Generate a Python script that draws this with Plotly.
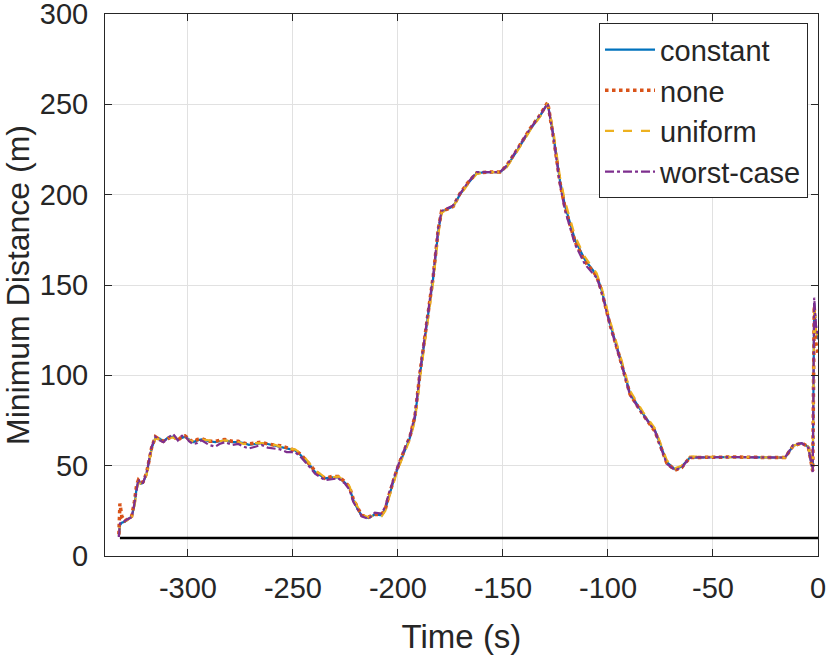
import plotly.graph_objects as go

# time axis shared by all four runs (s)
time_s = [
    -332.9, -332.4, -331.5, -330.0, -328.5, -326.8, -325.5, -324.4, -323.6, -322.5,
    -321.4, -319.7, -317.3, -315.5, -313.5, -311.7, -309.5, -307.0, -304.8, -303.0,
    -301.4, -299.5, -297.6, -295.5, -293.5, -290.0, -287.0, -285.0, -282.4, -279.0,
    -276.0, -273.5, -271.0, -268.0, -265.0, -262.0, -258.6, -256.0, -253.0, -249.0,
    -246.5, -244.0, -241.5, -239.5, -236.5, -234.8, -231.5, -228.4, -225.2, -223.0,
    -221.3, -219.0, -217.3, -214.1, -211.0, -207.8, -206.0, -204.6, -202.5, -200.6,
    -197.5, -194.3, -191.9, -189.5, -186.3, -183.2, -180.8, -179.2, -176.5, -173.7,
    -170.5, -166.5, -162.5, -157.0, -151.4, -148.3, -143.5, -137.1, -132.4, -128.7,
    -126.0, -122.9, -120.5, -115.7, -111.0, -105.4, -103.0, -99.0, -94.3, -89.5,
    -83.2, -77.6, -75.2, -72.0, -68.1, -64.9, -61.0, -50.0, -40.0, -30.0,
    -20.0, -15.7, -11.8, -7.8, -4.6, -3.0, -2.5, -1.8, -1.0, 0.0,
]

# minimum distance (m) per noise model
constant = [
    10.7, 17.0, 18.5, 19.0, 20.5, 21.7, 28.0, 38.0, 41.0, 40.0,
    40.5, 45.5, 59.5, 65.5, 65.0, 63.5, 65.5, 66.0, 64.5, 65.5,
    66.0, 64.5, 63.0, 64.0, 64.5, 63.5, 63.0, 63.5, 64.0, 63.0,
    63.0, 62.5, 61.5, 62.0, 62.5, 62.0, 61.0, 60.5, 59.5, 58.5,
    56.0, 53.0, 49.5, 46.5, 44.0, 43.0, 43.5, 43.5, 40.5, 37.5,
    31.0, 25.5, 22.5, 21.0, 23.0, 22.5, 26.0, 32.0, 40.0, 47.0,
    56.5, 65.5, 76.5, 100.5, 128.0, 154.0, 180.0, 190.5, 192.0, 193.5,
    200.0, 206.5, 212.0, 212.5, 212.5, 215.5, 224.0, 236.0, 243.5, 250.5,
    233.0, 208.0, 194.0, 175.0, 164.0, 155.5, 147.0, 128.5, 110.0, 90.0,
    78.5, 69.5, 62.0, 52.0, 48.0, 49.5, 54.5, 54.8, 54.8, 54.6,
    54.5, 54.5, 61.0, 62.5, 60.5, 50.0, 47.5, 140.0, 125.0, 120.0,
]
none = [
    12.0, 29.0, 22.0, 19.5, 20.5, 22.0, 30.0, 39.5, 42.0, 40.5,
    41.0, 46.0, 60.0, 66.0, 64.5, 63.5, 65.0, 66.5, 64.0, 66.0,
    66.5, 64.5, 63.0, 64.5, 65.0, 63.5, 63.5, 64.0, 64.5, 63.5,
    63.5, 62.5, 62.0, 62.5, 63.0, 62.0, 61.5, 61.0, 60.0, 58.5,
    56.5, 53.5, 50.0, 47.0, 44.5, 43.0, 44.0, 44.0, 41.0, 38.0,
    31.5, 26.0, 22.5, 21.5, 23.0, 23.0, 26.0, 32.5, 40.5, 47.5,
    57.0, 66.0, 77.5, 101.5, 129.0, 155.0, 181.0, 191.0, 192.0, 193.5,
    200.5, 207.0, 212.0, 212.5, 212.5, 216.0, 224.5, 236.5, 244.0, 251.0,
    232.0, 207.0, 193.0, 174.0, 163.0, 155.0, 146.5, 128.0, 109.5, 89.5,
    78.0, 69.0, 61.5, 51.5, 47.5, 49.0, 54.5, 54.8, 54.8, 54.6,
    54.5, 54.5, 61.0, 62.5, 60.5, 50.0, 47.0, 138.0, 118.0, 112.0,
]
uniform = [
    11.0, 16.5, 18.0, 19.0, 20.0, 21.5, 27.0, 37.0, 40.5, 40.0,
    40.0, 45.0, 59.0, 65.0, 64.5, 64.0, 65.5, 65.5, 64.5, 65.0,
    66.0, 64.0, 63.5, 64.0, 64.5, 64.0, 63.0, 63.5, 64.0, 63.5,
    63.0, 62.0, 62.0, 62.5, 62.5, 62.0, 61.5, 60.5, 59.5, 59.0,
    57.0, 54.0, 50.5, 47.5, 45.0, 43.5, 43.5, 44.0, 41.5, 38.5,
    32.0, 26.5, 23.0, 21.5, 22.5, 22.0, 25.0, 31.0, 39.0, 46.0,
    55.5, 64.5, 75.0, 98.5, 126.0, 152.0, 178.0, 190.0, 192.0, 193.5,
    199.5, 206.0, 211.5, 212.5, 212.5, 215.0, 223.5, 235.5, 243.0, 250.5,
    235.0, 210.0, 196.5, 177.0, 165.5, 156.5, 148.5, 130.0, 111.5, 91.5,
    79.5, 70.5, 63.0, 53.0, 48.5, 50.0, 55.0, 54.8, 54.8, 54.6,
    54.5, 54.5, 61.0, 62.5, 60.5, 50.0, 47.5, 140.0, 125.0, 120.0,
]
worst_case = [
    10.5, 18.0, 19.0, 19.5, 20.5, 21.5, 29.0, 38.5, 42.5, 40.0,
    40.5, 46.0, 60.5, 66.0, 64.0, 63.0, 65.5, 67.5, 64.0, 66.5,
    66.5, 63.5, 62.0, 62.5, 64.0, 61.5, 60.5, 62.0, 63.0, 61.5,
    62.0, 60.5, 59.5, 60.5, 61.5, 60.0, 59.5, 59.0, 57.5, 57.5,
    55.0, 52.0, 48.5, 45.5, 43.0, 42.0, 42.5, 43.0, 40.0, 36.5,
    30.0, 25.0, 22.0, 20.5, 24.0, 23.5, 27.5, 33.5, 41.0, 48.0,
    57.5, 66.5, 78.0, 102.0, 129.5, 155.5, 181.5, 191.0, 192.5, 194.0,
    200.5, 207.0, 212.5, 212.5, 212.5, 216.0, 224.5, 236.5, 244.0, 250.5,
    232.0, 206.0, 191.5, 172.5, 161.5, 154.0, 146.0, 127.5, 109.0, 89.0,
    78.0, 69.0, 61.0, 51.0, 47.5, 49.0, 54.5, 54.8, 54.8, 54.6,
    54.5, 54.5, 61.5, 62.5, 60.0, 49.0, 46.5, 143.0, 128.0, 122.0,
]

# safety threshold
limit_t = [-332.4, 0.0]
limit_d = [10, 10]

x_ticks = [-300, -250, -200, -150, -100, -50, 0]
x_labels = ['-300', '-250', '-200', '-150', '-100', '-50', '0']
y_ticks = [0, 50, 100, 150, 200, 250, 300]

FONT = 'Liberation Sans, Arial, Helvetica, sans-serif'
INK = '#262626'

fig = go.Figure()
fig.add_trace(go.Scatter(x=time_s, y=constant, name='constant', mode='lines',
                         line=dict(color='#0072BD', width=2.2)))
fig.add_trace(go.Scatter(x=time_s, y=none, name='none', mode='lines',
                         line=dict(color='#D95319', width=3.5, dash='dot')))
fig.add_trace(go.Scatter(x=time_s, y=uniform, name='uniform', mode='lines',
                         line=dict(color='#EDB120', width=2.2, dash='dash')))
fig.add_trace(go.Scatter(x=time_s, y=worst_case, name='worst-case', mode='lines',
                         line=dict(color='#7E2F8E', width=2.2, dash='dashdot')))
fig.add_trace(go.Scatter(x=limit_t, y=limit_d, mode='lines', showlegend=False,
                         line=dict(color='black', width=2.5)))

axis_style = dict(showline=True, linecolor=INK, linewidth=1, mirror='ticks',
                  ticks='inside', ticklen=7, tickcolor=INK, automargin=False,
                  ticklabeloverflow='allow',
                  showgrid=True, gridcolor='#e1e1e1', gridwidth=1,
                  zeroline=False, tickfont=dict(size=29, color=INK, family=FONT))

fig.update_layout(
    width=831, height=655,
    margin=dict(l=105, r=13, t=14, b=99),
    paper_bgcolor='white', plot_bgcolor='white',
    font=dict(family=FONT, color=INK),
    xaxis=dict(range=[-339.5, 0], tickvals=x_ticks, ticktext=x_labels,
               ticklabelstandoff=6,
               title=dict(text='Time (s)', font=dict(size=33, color=INK), standoff=22),
               **axis_style),
    yaxis=dict(range=[0, 300], tickvals=y_ticks, ticklabelstandoff=10,
               title=dict(text='Minimum Distance (m)', font=dict(size=32, color=INK), standoff=8),
               **axis_style),
    legend=dict(x=0.986, y=0.983, xanchor='right', yanchor='top',
                bgcolor='white', bordercolor=INK, borderwidth=1,
                font=dict(size=29, color=INK, family=FONT), itemwidth=50),
)

# drop the default page margin so the figure fills the window exactly
fig.write_html('out.html', config={'displayModeBar': False},
               post_script="document.body.style.margin='0';document.body.style.overflow='hidden';")
